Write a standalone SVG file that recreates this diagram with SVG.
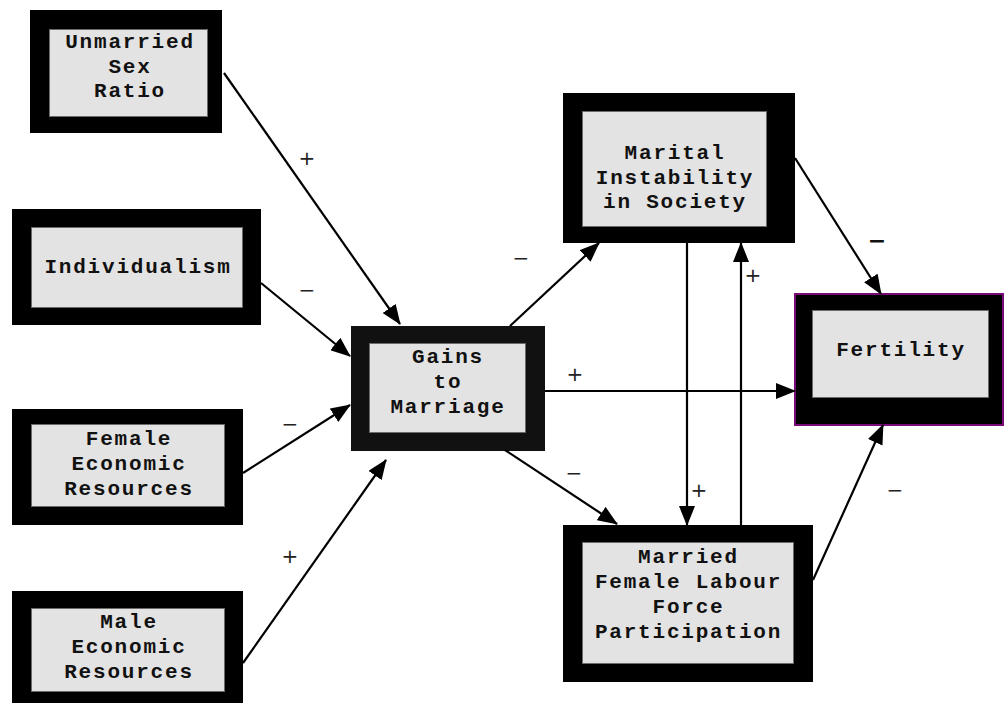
<svg xmlns="http://www.w3.org/2000/svg" width="1004" height="705" viewBox="0 0 1004 705">
<style>
.outer{fill:#000}
.inner{fill:#e3e3e3;stroke:#6a6a6a;stroke-width:1}
.t{font-family:"Liberation Mono","Courier New",monospace;font-weight:bold;font-size:21px;letter-spacing:1.8px;fill:#111;text-anchor:middle}
.c{stroke:#000;stroke-width:2.2;fill:none;marker-end:url(#ah)}
.l{font-family:"DejaVu Sans","Liberation Sans",sans-serif;font-size:20px;fill:#222;text-anchor:middle}
</style>
<defs>
<marker id="ah" markerUnits="userSpaceOnUse" markerWidth="20" markerHeight="16" refX="19" refY="8" orient="auto">
<path d="M0,0 L20,8 L0,16 z" fill="#000"/>
</marker>
</defs>
<rect width="1004" height="705" fill="#fff"/>
<g id="unmarried">
<rect class="outer" x="30" y="10" width="192" height="123"/>
<rect class="inner" x="49.5" y="29.5" width="158" height="87"/>
<text class="t" x="130" y="48">Unmarried</text>
<text class="t" x="130" y="73">Sex</text>
<text class="t" x="130" y="97">Ratio</text>
</g>
<g id="individualism">
<rect class="outer" x="12" y="209" width="249" height="116"/>
<rect class="inner" x="31.5" y="227.5" width="211" height="80"/>
<text class="t" x="138" y="273">Individualism</text>
</g>
<g id="female">
<rect class="outer" x="12" y="409" width="231" height="116"/>
<rect class="inner" x="31.5" y="424.5" width="193" height="82"/>
<text class="t" x="129" y="445">Female</text>
<text class="t" x="129" y="470">Economic</text>
<text class="t" x="129" y="495">Resources</text>
</g>
<g id="male">
<rect class="outer" x="12" y="591" width="231" height="112"/>
<rect class="inner" x="31.5" y="608.5" width="193" height="83"/>
<text class="t" x="129" y="628">Male</text>
<text class="t" x="129" y="653">Economic</text>
<text class="t" x="129" y="678">Resources</text>
</g>
<g id="gains">
<rect x="351" y="326" width="194" height="125" fill="#111"/>
<rect class="inner" x="369.5" y="343.5" width="156" height="89"/>
<text class="t" x="448" y="363">Gains</text>
<text class="t" x="448" y="388">to</text>
<text class="t" x="448" y="413">Marriage</text>
</g>
<g id="marital">
<rect class="outer" x="563" y="93" width="232" height="150"/>
<rect class="inner" x="582.5" y="111.5" width="184" height="115"/>
<text class="t" x="675" y="159">Marital</text>
<text class="t" x="675" y="184">Instability</text>
<text class="t" x="675" y="208">in Society</text>
</g>
<g id="married">
<rect class="outer" x="563" y="525" width="250" height="157"/>
<rect class="inner" x="582.5" y="542.5" width="211" height="121"/>
<text class="t" x="688.5" y="563">Married</text>
<text class="t" x="688.5" y="588">Female Labour</text>
<text class="t" x="688.5" y="613">Force</text>
<text class="t" x="688.5" y="638">Participation</text>
</g>
<g id="fertility">
<rect x="795" y="294" width="208" height="131" fill="#000" stroke="#7a0a7a" stroke-width="2"/>
<rect class="inner" x="812.5" y="310.5" width="176" height="87"/>
<text class="t" x="901" y="356">Fertility</text>
</g>
<g id="connectors">
<line class="c" x1="224" y1="73" x2="400" y2="324"/>
<line class="c" x1="261" y1="283" x2="350" y2="356"/>
<line class="c" x1="243" y1="473" x2="350" y2="405"/>
<line class="c" x1="243" y1="663" x2="386" y2="460"/>
<line class="c" x1="510" y1="326" x2="599" y2="243"/>
<line class="c" x1="545" y1="391" x2="795" y2="391"/>
<line class="c" x1="505" y1="450" x2="617" y2="524"/>
<line class="c" x1="687" y1="243" x2="687" y2="525"/>
<line class="c" x1="741" y1="525" x2="741" y2="243"/>
<line class="c" x1="795" y1="158" x2="881" y2="294"/>
<line class="c" x1="813" y1="580" x2="883" y2="425"/>
</g>
<g id="labels">
<text class="l" x="307" y="165">+</text>
<text class="l" x="307" y="297">−</text>
<text class="l" x="290" y="431">−</text>
<text class="l" x="290" y="563">+</text>
<text class="l" x="521" y="265">−</text>
<text class="l" x="575" y="381">+</text>
<text class="l" x="574" y="480">−</text>
<text class="l" x="699" y="497">+</text>
<text class="l" x="753" y="282">+</text>
<text x="877" y="248" font-family="DejaVu Sans, sans-serif" font-size="22" font-weight="bold" fill="#111" text-anchor="middle">−</text>
<text class="l" x="895" y="497">−</text>
</g>
</svg>
